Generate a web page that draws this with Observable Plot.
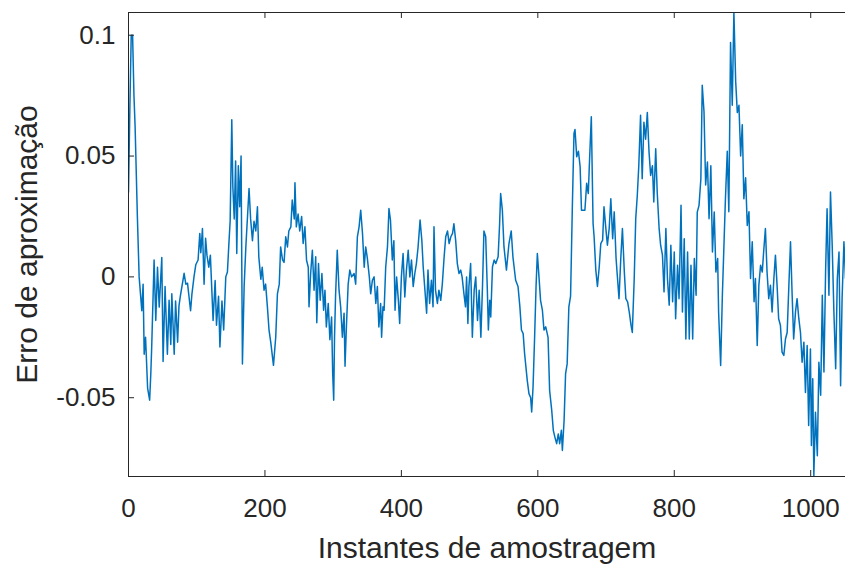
<!DOCTYPE html>
<html>
<head>
<meta charset="utf-8">
<script src="https://cdn.jsdelivr.net/npm/d3@7"></script>
<script src="https://cdn.jsdelivr.net/npm/@observablehq/plot@0.6"></script>
<style>
  html, body { margin: 0; padding: 0; background: #ffffff; overflow: hidden; }
</style>
</head>
<body>
<div id="chart"></div>
<script>
const xLabel = "Instantes de amostragem";
const yLabel = "Erro de aproximação";
const xTicks = [0, 200, 400, 600, 800, 1000];
const xTickLabels = ["0", "200", "400", "600", "800", "1000"];
const yTicks = [-0.05, 0, 0.05, 0.1];
const yTickLabels = ["-0.05", "0", "0.05", "0.1"];
const xDomain = [0, 1051];
const yDomain = [-0.0826, 0.1094];

const sampleX = [
  0, 2, 4, 6, 8, 9.7, 13, 15.6, 19.5, 21.4, 23, 25, 28, 31, 32.7, 34, 37.5, 40, 42.5, 45,
  48.8, 50.7, 53.6, 57, 59.5, 62, 63.5, 67, 69, 72, 74, 76, 81.5, 84, 86.5, 91, 93, 96, 98.6, 102,
  104.5, 106, 108.4, 110.8, 113, 115, 117.7, 120, 124, 127, 129, 132, 134, 137, 139.5, 142.6, 145, 147.4, 149, 151.4,
  153, 155, 157, 158.7, 161, 163, 165, 167, 169.5,
  172, 176.7, 179, 181.7, 184, 186.6, 189, 191, 194, 196, 198.7, 201, 203.6, 206, 208.5, 212.5, 215.8, 218.3, 221, 223,
  225.8, 228, 230.5, 233, 235, 238, 240, 243, 244, 246, 248.6, 251, 253.8, 256, 258.6, 261, 263.5, 264.6, 267, 269.5,
  272, 274.4, 276, 278.5, 281, 283.5, 286, 288, 290, 292.8, 295.2, 297.7, 299.3, 300.8, 302, 303.5, 306, 308.6, 311, 313.5,
  316, 317.4, 319.4, 322, 324.4, 327, 330.7, 333, 335.5, 338, 340.4, 343, 345.5,
  347.7, 350, 353, 355, 357.5, 360, 362.5, 364.8, 367, 369.6, 371, 373, 374.7, 377, 379.6, 381.8, 384, 386.7, 389, 390.7,
  393, 395.6, 397.5, 400, 402.5, 405, 407.4, 410, 412.4, 414.8, 417.3, 419.7, 422, 424.5, 427.4, 430, 432, 434.5, 437, 439,
  441.4, 444, 446.4, 447.8, 450, 452.8, 455, 457.7, 460, 462.6, 465, 467.6, 470, 472.5, 475, 477, 479.6, 482, 484.5, 487,
  489, 491.7, 494, 495.6, 497.5, 499, 501.5, 504, 506.7, 509, 511.6, 514, 516.5, 519, 521, 523.6, 526, 527.5,
  529.5, 531, 533.5, 536, 538.4, 541.8, 544, 545.5, 548, 550.4, 554, 557.7, 561, 563.5, 567.5, 571, 573.7, 576, 578.5, 580.6,
  584.5, 587, 589.5, 591, 593, 595.3, 597.4, 599.3, 601.7, 604, 606.7, 609, 611.6, 615, 617.3, 620.3, 622.7, 625, 627.6, 630,
  632, 634.5, 636, 638.5, 640.7, 643, 645.5, 648, 650.5, 653, 654.5, 657, 659.5, 662, 664, 666.7, 669, 671.6, 674, 676,
  678.4, 681, 682.5, 685, 687.4, 690, 692.3, 695, 697,
  699.3, 702, 704.6, 707, 709.7, 712, 714.7, 716.5, 719, 721.6, 724, 726.8, 729, 731.6, 734, 736.6, 738.5, 741.3, 743.5, 745.8,
  748, 750.6, 753, 755.5, 758, 760.5, 763, 765.4, 768, 770, 772.8, 775, 777.8, 780, 782.7, 785, 787.7, 790, 792.6, 795,
  797.6, 800, 802, 804.8, 807, 809.9, 812, 814.6, 817, 819.5, 822, 824.5, 827, 829.4, 832, 833.7, 836.3, 839, 841, 843.6,
  846, 848.6, 851, 853.6, 856, 858.6, 861, 863.6, 865, 868, 870.5,
  875, 877.7, 880, 882.5, 885, 887.4, 890, 892.4, 894.8, 897.3, 899.7, 902, 904.6, 907, 909.5, 911.8, 914.3, 917, 919, 921.6,
  924, 926.5, 929, 931, 933.6, 936, 938.5, 941, 943.4, 946, 948.3, 950.7, 953, 955.6, 958, 960.6, 963, 965.5, 968, 970.4,
  972.8, 975, 977.7, 980, 982.6, 985, 987.4, 990, 992.3, 994.8, 997, 999.6, 1001, 1003, 1004.6, 1007, 1009.7, 1012, 1014.6, 1017,
  1019.4, 1021.8, 1024, 1026.7, 1029, 1031.5, 1034, 1036.6, 1039, 1041.5, 1043.8, 1046, 1048.7, 1051
];

const errorY = [
  0.035, 0.07, 0.1, 0.1, 0.075, 0.062, 0.025, 0, -0.014, -0.003, -0.032, -0.025, -0.046, -0.051, -0.04, -0.029, 0.007, -0.018, 0.004, -0.0125,
  0.008, -0.035, -0.004, -0.032, -0.0097, -0.028, -0.007, -0.032, -0.01, -0.027, -0.012, -0.008, 0.0015, -0.003, -0.0026, -0.014, -0.007, 0, 0.005, 0.007,
  0.018, 0.01, 0.02, -0.003, 0.016, 0.009, 0.004, 0.009, -0.018, -0.0015, -0.02, -0.008, -0.029, -0.01, -0.022, 0, 0.002, 0.015, 0.023, 0.065,
  0.037, 0.024, 0.048, 0.0097, 0.046, 0.029, 0.05, -0.036, -0.004,
  0.0124, 0.0366, 0.024, 0.015, 0.023, 0.019, 0.029, 0.0083, -0.001, 0.004, -0.0055, -0.003, -0.0124, -0.022, -0.027, -0.0366, -0.025, -0.007, -0.003, 0.0124,
  0.007, 0.006, 0.0166, 0.0124, 0.019, 0.0207, 0.0318, 0.024, 0.039, 0.0207, 0.026, 0.019, 0.025, 0.0138, 0.0207, 0.0069, 0.004, -0.0124, 0.0014, 0.011,
  -0.0055, 0.0083, -0.019, 0.0055, -0.0097, 0.0014, -0.0138, -0.0055, -0.0207, -0.011, -0.026, -0.0166, -0.04, -0.051, -0.025, -0.008, 0.011, -0.0055, -0.0124, -0.025,
  -0.015, -0.037, -0.0207, -0.003, 0.0028, 0, 0.0014, -0.003, 0.0166, 0.0207, 0.0276, 0.018, 0.004,
  0.0124, 0.008, 0, -0.007, -0.0014, 0, -0.011, -0.004, -0.0207, -0.011, -0.025, -0.0124, -0.0138, 0.004, 0.0124, 0.0283, 0.0235, 0.007, 0.015, -0.0138,
  0, -0.0097, -0.0193, 0, 0.0097, -0.0083, 0.0028, 0.011, 0, 0.007, -0.004, 0.0014, 0.0055, 0.0124, 0.0235, 0.015, 0.004, -0.0055, -0.015, 0.0028,
  -0.011, -0.0014, -0.0124, 0.0207, -0.0055, -0.011, -0.0055, -0.0097, -0.003, 0.008, 0.0166, 0.019, 0.0138, 0.0166, 0.018, 0.022, 0.015, 0.0055, 0.0014, 0.0028,
  0, -0.007, -0.0124, 0, -0.0193, -0.004, 0.0055, -0.025, -0.0055, 0, -0.018, -0.0055, -0.025, -0.003, 0.019, 0.0166, -0.0055, -0.022,
  -0.0097, -0.0166, 0.0041, 0.007, 0.0055, 0.0083, 0.022, 0.0345, 0.0276, 0.0124, 0.0028, 0.0138, 0.019, 0.0083, -0.0014, -0.004, -0.0124, -0.022, -0.0235, -0.0317,
  -0.0428, -0.0483, -0.05, -0.0559, -0.0456, -0.0249, -0.004, 0.0097, 0, -0.0097, -0.0138, -0.022, -0.0207, -0.025, -0.047, -0.055, -0.0635, -0.0663, -0.069, -0.065,
  -0.069, -0.0635, -0.0718, -0.0594, -0.04, -0.036, -0.0124, -0.008, 0.0276, 0.0594, 0.061, 0.0497, 0.052, 0.0456, 0.0276, 0.0276, 0.0276, 0.0387, 0.0345, 0.0497,
  0.0663, 0.0221, 0.0166, 0.0028, -0.004, 0.0041, 0.0138, 0.0152, 0.029,
  0.0213, 0.0131, 0.02, 0.0323, 0.0158, 0.0269, 0.0076, 0.0006, -0.009, 0.0076, 0.02, 0.002, -0.009, -0.0103, -0.0145, -0.02, -0.023, -0.0007, 0.024, 0.0337,
  0.046, 0.0669, 0.0406, 0.064, 0.057, 0.068, 0.0517, 0.042, 0.046, 0.031, 0.053, 0.035, 0.02, 0.0131, 0.009, -0.0062, 0.02, -0.0007, -0.0117, 0.0131,
  -0.0103, 0.0103, -0.0173, 0.0048, -0.009, 0.0296, -0.0145, 0.0158, -0.0257, 0.0103, -0.0257, 0.0048, -0.0257, 0.0076, -0.0076, 0.0268, 0.0296, 0.0406, 0.0793, 0.0683,
  0.038, 0.0475, 0.0241, 0.046, 0.0103, 0.0268, 0.002, 0.0076, -0.0145, -0.0367, -0.0076,
  0.0323, 0.052, 0.027, 0.097, 0.071, 0.1096, 0.081, 0.068, 0.071, 0.05, 0.063, 0.0323, 0.041, 0.0213, 0.027, -0.0007, 0.0145, -0.0103, -0.0007, -0.0284,
  -0.0035, 0.0048, 0.002, 0.0103, 0.02, 0.002, -0.009, -0.0035, -0.0145, -0.0007, 0.009, -0.0035, -0.0173, -0.02, -0.0311, -0.0325, -0.0257, -0.023, -0.0035, 0.0145,
  -0.0076, -0.0257, -0.0145, -0.009, -0.0173, -0.023, -0.0353, -0.027, -0.0478, -0.0284, -0.0615, -0.0298, -0.0698, -0.0422, -0.0823, -0.056, -0.074, -0.0353, -0.049, -0.0076,
  -0.0394, 0.002, 0.0282, -0.0076, 0.0351, 0.0131, -0.0145, -0.038, -0.0007, 0.0103, -0.045, -0.009, 0.0145, -0.0007
];

const data = sampleX.map((x, i) => ({x, y: errorY[i]}));

const axisColor = "#262626";
const lineColor = "#0072BD";

const chart = Plot.plot({
  width: 845,
  height: 564,
  marginTop: 12,
  marginLeft: 128,
  marginRight: 0,
  marginBottom: 88,
  x: {domain: xDomain},
  y: {domain: yDomain},
  style: {
    fontFamily: "'Liberation Sans', Arial, Helvetica, sans-serif",
    color: axisColor,
    background: "#ffffff",
    overflow: "hidden"
  },
  marks: [
    Plot.line(data, {x: "x", y: "y", stroke: lineColor, strokeWidth: 1.5, clip: true}),
    Plot.ruleY([yDomain[1]], {stroke: axisColor, strokeWidth: 1}),
    Plot.ruleY([yDomain[0]], {stroke: axisColor, strokeWidth: 1}),
    Plot.ruleX([xDomain[0]], {stroke: axisColor, strokeWidth: 1}),
    Plot.tickX(xTicks, {x: d => d, insetTop: 458, stroke: axisColor}),
    Plot.tickX(xTicks, {x: d => d, insetBottom: 458, stroke: axisColor}),
    Plot.tickY(yTicks, {y: d => d, insetRight: 711, stroke: axisColor}),
    Plot.axisX(xTicks, {
      tickSize: 0, tickPadding: 22, fontSize: 26, label: null,
      tickFormat: (d, i) => xTickLabels[xTicks.indexOf(d)]
    }),
    Plot.axisY(yTicks, {
      tickSize: 0, tickPadding: 13, fontSize: 26, label: null,
      tickFormat: (d, i) => yTickLabels[yTicks.indexOf(d)]
    }),
    Plot.text([xLabel], {text: d => d, frameAnchor: "bottom", dy: 72, fontSize: 30, lineAnchor: "middle", textAnchor: "middle", fill: axisColor}),
    Plot.text([yLabel], {text: d => d, frameAnchor: "left", dx: -101, rotate: -90, fontSize: 30, lineAnchor: "middle", textAnchor: "middle", fill: axisColor})
  ]
});

document.getElementById("chart").appendChild(chart);
</script>
</body>
</html>
